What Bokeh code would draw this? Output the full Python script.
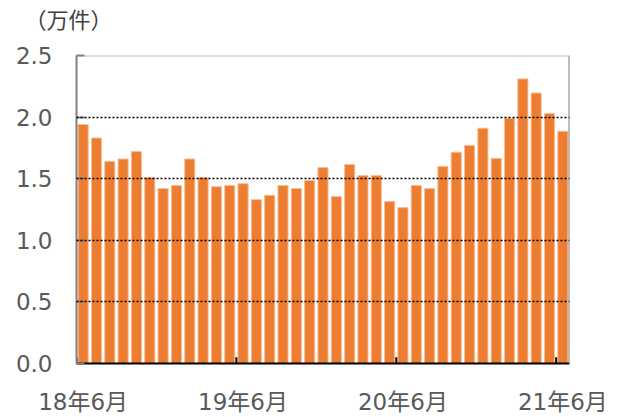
from bokeh.plotting import figure
from bokeh.models import FixedTicker, Span, Range1d, PrintfTickFormatter, Title
from bokeh.embed import file_html
from bokeh.resources import INLINE

# months 2018/06 .. 2021/06
months = [f"{2018 + (5 + i) // 12}/{(5 + i) % 12 + 1:02d}" for i in range(37)]
values = [1.94, 1.83, 1.64, 1.66, 1.72, 1.51, 1.42, 1.445, 1.66, 1.51,
          1.435, 1.445, 1.46, 1.33, 1.365, 1.445, 1.42, 1.485, 1.59, 1.355,
          1.615, 1.525, 1.525, 1.315, 1.265, 1.445, 1.42, 1.60, 1.715, 1.77,
          1.91, 1.665, 1.99, 2.31, 2.195, 2.03, 1.885]
tick_months = ["2018/06", "2019/06", "2020/06", "2021/06"]
tick_labels = ["18年6月", "19年6月", "20年6月", "21年6月"]
y_ticks = [0.0, 0.5, 1.0, 1.5, 2.0, 2.5]
grid_ticks = [0.5, 1.0, 1.5, 2.0]
unit_label = "（万件）"

x_pos = [i + 0.5 for i in range(len(months))]
tick_idx = [months.index(m) for m in tick_months]

p = figure(width=615, height=417, output_backend="svg", toolbar_location=None,
           x_range=Range1d(0, len(months)), y_range=Range1d(0, 2.5),
           min_border_left=76, min_border_right=46, min_border_top=55,
           min_border_bottom=54, title_location=None)
p.outline_line_color = None
p.background_fill_color = "white"
p.border_fill_color = "white"

p.vbar(x=x_pos, top=values, width=0.76, fill_color="#ED7D31",
       line_color="#F6BE98", line_width=1)

# x axis
xa = p.xaxis[0]
xa.ticker = FixedTicker(ticks=[i + 0.5 for i in tick_idx])
xa.major_label_overrides = {i + 0.5: lab for i, lab in zip(tick_idx, tick_labels)}
xa.major_tick_in = 0
xa.major_tick_out = 0
xa.minor_tick_line_color = None
xa.axis_line_color = "black"
xa.axis_line_width = 2
xa.major_label_text_font = "DejaVu Sans, Noto Sans CJK JP"
xa.major_label_text_font_size = "23px"
xa.major_label_text_color = "#595959"
xa.major_label_standoff = 25

# boundary ticks
p.segment(x0=tick_idx, y0=[0] * len(tick_idx), x1=tick_idx, y1=[0.05] * len(tick_idx),
          line_color="black", line_width=2)

# y axis
ya = p.yaxis[0]
ya.ticker = FixedTicker(ticks=y_ticks)
ya.formatter = PrintfTickFormatter(format="%.1f")
ya.major_tick_in = 8
ya.major_tick_out = 0
ya.major_tick_line_color = "#808080"
ya.major_tick_line_width = 2
ya.minor_tick_line_color = None
ya.axis_line_color = "#808080"
ya.axis_line_width = 2
ya.major_label_text_font = "DejaVu Sans"
ya.major_label_text_font_size = "23px"
ya.major_label_text_color = "#595959"
ya.major_label_standoff = 24

# grid
p.xgrid.grid_line_color = None
p.ygrid.ticker = FixedTicker(ticks=grid_ticks)
p.ygrid.grid_line_color = "black"
p.ygrid.grid_line_dash = "2 2"
p.ygrid.grid_line_width = 1.5
p.ygrid.level = "annotation"

p.add_layout(Span(location=2.5, dimension="width", line_color="#808080",
                  line_dash="1 1", line_width=2))
p.add_layout(Span(location=len(months), dimension="height", line_color="#808080",
                  line_width=2))

spacer = Title(text=" ", text_font_size="13px", text_font="Noto Sans CJK JP",
               standoff=0)
unit_title = Title(text=unit_label, align="left", offset=-52, text_font_size="22px",
                   text_color="#404040", text_font="Noto Sans CJK JP",
                   text_font_style="normal", standoff=0, vertical_align="middle")
p.add_layout(spacer, "above")
p.add_layout(unit_title, "above")

open("out.html", "w").write(file_html(p, INLINE))
